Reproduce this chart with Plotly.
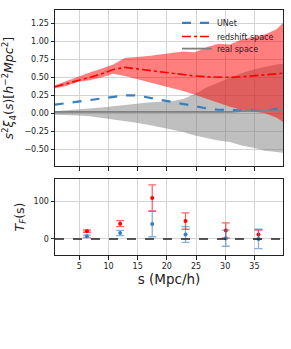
import plotly.graph_objects as go

# ---- data ----
s_grid = [0.8, 2.8, 4.8, 6.8, 8.8, 10.8, 12.8, 14.8, 16.8, 18.8, 20.8,
          22.8, 24.8, 26.8, 28.8, 30.8, 32.8, 34.8, 36.8, 38.8, 39.9]

unet = [0.12, 0.14, 0.17, 0.19, 0.21, 0.23, 0.25, 0.25, 0.22, 0.19, 0.16,
        0.12, 0.09, 0.07, 0.05, 0.05, 0.04, 0.04, 0.03, 0.06, 0.08]

redshift = [0.37, 0.41, 0.46, 0.50, 0.55, 0.61, 0.64, 0.62, 0.59, 0.57, 0.55,
            0.53, 0.52, 0.51, 0.50, 0.50, 0.51, 0.52, 0.53, 0.55, 0.56]
redshift_hi = [0.39, 0.45, 0.52, 0.57, 0.62, 0.68, 0.77, 0.78, 0.80, 0.82, 0.84,
               0.86, 0.85, 0.92, 0.97, 0.96, 1.03, 1.06, 1.10, 1.17, 1.26]
redshift_lo = [0.35, 0.38, 0.44, 0.46, 0.50, 0.55, 0.52, 0.48, 0.44, 0.40, 0.35,
               0.31, 0.26, 0.20, 0.14, 0.09, 0.05, 0.02, 0.00, -0.06, -0.12]

real = [0.02, 0.02, 0.02, 0.02, 0.02, 0.02, 0.02, 0.02, 0.01, 0.01, 0.01,
        0.01, 0.01, 0.01, 0.02, 0.02, 0.03, 0.03, 0.03, 0.03, 0.04]
real_hi = [0.03, 0.04, 0.05, 0.06, 0.08, 0.10, 0.12, 0.13, 0.15, 0.16, 0.17,
           0.20, 0.27, 0.36, 0.43, 0.50, 0.56, 0.61, 0.65, 0.68, 0.69]
real_lo = [-0.02, -0.02, -0.03, -0.04, -0.06, -0.08, -0.10, -0.13, -0.16, -0.19, -0.22,
           -0.26, -0.31, -0.35, -0.38, -0.40, -0.45, -0.48, -0.52, -0.54, -0.55]

s_bins = [6.3, 12.0, 17.5, 23.2, 30.1, 35.7]
T_red = [21, 41, 110, 48, 23, 12]
T_red_err = [3, 8, 35, 22, 20, 12]
T_unet = [7, 16, 40, 12, 2, 0]
T_unet_err = [3.5, 7, 34, 21, 21.5, 26]

x_ticks = [5, 10, 15, 20, 25, 30, 35]
top_yticks = [-0.5, -0.25, 0.0, 0.25, 0.5, 0.75, 1.0, 1.25]
bot_yticks = [0, 100]

RED = "#ff0000"
BLUE = "#3a7ebf"
GRAY = "#808080"

fig = go.Figure()

# real space band
fig.add_trace(go.Scatter(x=s_grid, y=real_hi, mode="lines", line=dict(width=0),
                         showlegend=False, hoverinfo="skip", xaxis="x", yaxis="y"))
fig.add_trace(go.Scatter(x=s_grid, y=real_lo, mode="lines", line=dict(width=0),
                         fill="tonexty", fillcolor="rgba(128,128,128,0.5)",
                         showlegend=False, hoverinfo="skip", xaxis="x", yaxis="y"))
# redshift band
fig.add_trace(go.Scatter(x=s_grid, y=redshift_hi, mode="lines", line=dict(width=0),
                         showlegend=False, hoverinfo="skip", xaxis="x", yaxis="y"))
fig.add_trace(go.Scatter(x=s_grid, y=redshift_lo, mode="lines", line=dict(width=0),
                         fill="tonexty", fillcolor="rgba(255,0,0,0.5)",
                         showlegend=False, hoverinfo="skip", xaxis="x", yaxis="y"))

fig.add_trace(go.Scatter(x=s_grid, y=unet, mode="lines", name="UNet", legend="legend",
                         line=dict(color=BLUE, width=2.2, dash="dash"),
                         xaxis="x", yaxis="y"))
fig.add_trace(go.Scatter(x=s_grid, y=redshift, mode="lines", name="redshift space",
                         legend="legend2",
                         line=dict(color=RED, width=1.6, dash="dashdot"),
                         xaxis="x", yaxis="y"))
fig.add_trace(go.Scatter(x=s_grid, y=real, mode="lines", name="real space",
                         legend="legend3",
                         line=dict(color=GRAY, width=1.8),
                         xaxis="x", yaxis="y"))

# bottom panel
fig.add_trace(go.Scatter(x=s_bins, y=T_red, mode="markers", showlegend=False,
                         marker=dict(color=RED, size=4),
                         error_y=dict(type="data", array=T_red_err, visible=True,
                                      color="rgba(255,0,0,0.6)", thickness=1.3, width=4),
                         xaxis="x2", yaxis="y2"))
fig.add_trace(go.Scatter(x=s_bins, y=T_unet, mode="markers", showlegend=False,
                         marker=dict(color=BLUE, size=4),
                         error_y=dict(type="data", array=T_unet_err, visible=True,
                                      color="rgba(58,126,191,0.6)", thickness=1.3, width=4),
                         xaxis="x2", yaxis="y2"))

axis_common = dict(showline=True, linecolor="#222", linewidth=1, mirror=True,
                   showgrid=True, gridcolor="#d3d3d3", gridwidth=1,
                   ticks="outside", ticklen=3.5, tickcolor="#222", zeroline=False,
                   automargin=False,
                   tickfont=dict(size=8, color="#222"))

leg_common = dict(xanchor="left", yanchor="top", bgcolor="rgba(0,0,0,0)",
                  font=dict(size=8, color="#222"), borderwidth=0)

fig.update_layout(
    width=291, height=349,
    margin=dict(l=55, r=8, t=8, b=94),
    paper_bgcolor="white", plot_bgcolor="white",
    font=dict(family="DejaVu Sans", color="#222"),
    showlegend=True,
    legend=dict(x=0.535, y=1.0069, **leg_common),
    legend2=dict(x=0.535, y=0.951, **leg_common),
    legend3=dict(x=0.535, y=0.9016, **leg_common),
    xaxis=dict(domain=[0, 1], range=[0.84, 39.9], anchor="y", tickvals=x_ticks,
               showticklabels=False, **axis_common),
    yaxis=dict(domain=[0.3615, 1], range=[-0.74, 1.44], anchor="x",
               tickvals=top_yticks, tickformat=".2f",
               title=dict(text="<i>s</i><sup>2</sup><i>ξ</i><sub>4</sub>(<i>s</i>)[<i>h</i><sup>−2</sup><i>Mpc</i><sup>2</sup>]",
                          font=dict(size=12.5), standoff=8),
               **axis_common),
    xaxis2=dict(domain=[0, 1], range=[0.84, 39.9], anchor="y2", tickvals=x_ticks,
                title=dict(text="s (Mpc/h)", font=dict(size=13.5), standoff=4),
                **axis_common),
    yaxis2=dict(domain=[0, 0.3105], range=[-43, 161], anchor="x2",
                tickvals=bot_yticks,
                title=dict(text="<i>T</i><sub><i>F</i></sub>(s)", font=dict(size=12.5), standoff=6),
                **axis_common),
)

fig.add_shape(type="line", xref="x2 domain", yref="y2", x0=0, x1=1, y0=0, y1=0,
              line=dict(color="#222", width=1.5, dash="dash"))

fig.write_html("out.html", config={"displayModeBar": False},
               post_script="document.body.style.margin='0';")
